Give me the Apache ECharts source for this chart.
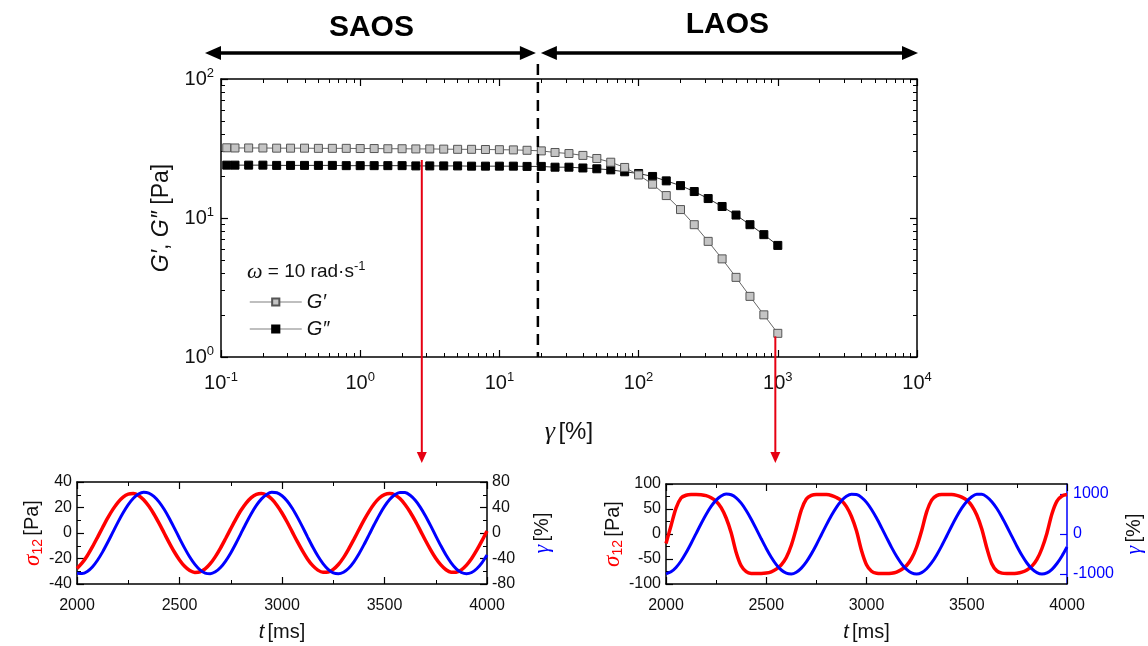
<!DOCTYPE html>
<html><head><meta charset="utf-8">
<script src="https://cdn.jsdelivr.net/npm/echarts@6/dist/echarts.min.js"></script>
<style>html,body{margin:0;padding:0;background:#fff}#c{width:1148px;height:646px}</style>
</head><body><div id="c"></div>
<script>
// ---------- data ----------
const strainPct = [0.11, 0.126, 0.158, 0.2, 0.251, 0.316, 0.398, 0.501, 0.631, 0.794, 1.0, 1.26, 1.58, 2.0, 2.51, 3.16, 3.98, 5.01, 6.31, 7.94, 10, 12.6, 15.8, 20.0, 25.1, 31.6, 39.8, 50.1, 63.1, 79.4, 100, 126, 158, 200, 251, 316, 398, 501, 631, 794, 1000];
const gPrime = [32.0, 31.9, 31.9, 31.9, 31.8, 31.8, 31.8, 31.7, 31.7, 31.7, 31.6, 31.6, 31.5, 31.5, 31.4, 31.4, 31.3, 31.2, 31.2, 31.1, 31.0, 30.9, 30.7, 30.4, 29.6, 29.1, 28.2, 26.8, 25.2, 23.1, 20.4, 17.5, 14.5, 11.5, 8.95, 6.79, 5.08, 3.74, 2.73, 2.01, 1.48];
const gDouble = [24.0, 24.0, 24.0, 24.0, 23.9, 23.9, 23.9, 23.9, 23.9, 23.8, 23.8, 23.8, 23.8, 23.8, 23.7, 23.7, 23.7, 23.7, 23.6, 23.6, 23.6, 23.6, 23.5, 23.5, 23.2, 23.2, 22.9, 22.6, 22.2, 21.5, 20.9, 19.9, 18.5, 17.1, 15.5, 13.8, 12.1, 10.5, 8.95, 7.59, 6.35];
const boundaryStrain = 18.9;
const arrowStrains = [2.77, 960];
const seriesNames = ['G\u2032', 'G\u2033'];
const regionLabels = ['SAOS', 'LAOS'];

const tMs = [2000,2025,2050,2075,2100,2125,2150,2175,2200,2225,2250,2275,2300,2325,2350,2375,2400,2425,2450,2475,2500,2525,2550,2575,2600,2625,2650,2675,2700,2725,2750,2775,2800,2825,2850,2875,2900,2925,2950,2975,3000,3025,3050,3075,3100,3125,3150,3175,3200,3225,3250,3275,3300,3325,3350,3375,3400,3425,3450,3475,3500,3525,3550,3575,3600,3625,3650,3675,3700,3725,3750,3775,3800,3825,3850,3875,3900,3925,3950,3975,4000];
const saosStress = [-27.8,-23.5,-17.8,-10.9,-3.4,4.3,11.8,18.5,24.1,28.2,30.5,30.9,29.4,26.1,21.1,14.9,7.7,0.0,-7.7,-14.9,-21.1,-26.1,-29.4,-30.9,-30.5,-28.2,-24.1,-18.5,-11.8,-4.3,3.4,10.9,17.8,23.5,27.8,30.3,31.0,29.7,26.6,21.8,15.7,8.6,0.9,-6.8,-14.0,-20.5,-25.6,-29.1,-30.8,-30.6,-28.5,-24.7,-19.3,-12.6,-5.2,2.5,10.1,17.0,22.9,27.4,30.1,31.0,30.0,27.0,22.4,16.5,9.5,1.9,-5.9,-13.2,-19.8,-25.0,-28.8,-30.7,-30.8,-28.9,-25.2,-20.0,-13.5,-6.2,1.6];
const saosStrain = [-63.2,-63.7,-60.3,-53.2,-42.7,-29.6,-14.6,1.3,17.1,31.8,44.6,54.6,61.1,63.9,62.7,57.6,48.9,37.2,23.2,7.7,-8.3,-23.7,-37.7,-49.3,-57.9,-62.8,-63.9,-60.9,-54.2,-44.1,-31.3,-16.5,-0.6,15.2,30.1,43.2,53.5,60.5,63.8,63.1,58.4,50.2,38.8,24.9,9.6,-6.4,-22.0,-36.2,-48.1,-57.1,-62.5,-64.0,-61.5,-55.2,-45.5,-32.9,-18.3,-2.6,13.3,28.4,41.7,52.4,59.9,63.6,63.4,59.2,51.3,40.3,26.7,11.5,-4.5,-20.1,-34.6,-46.8,-56.2,-62.0,-64.0,-62.0,-56.1,-46.8,-34.5];
const laosStress = [-18.8,16.5,51.8,72,77.5,79,79,78.6,76.7,72.4,65.7,52.8,32,2.5,-36.8,-63.6,-75.3,-78.8,-79,-79,-78.2,-75.6,-70.3,-61.6,-47,-22.5,11.6,48,69.9,77.2,79,79,78.8,77,73,67,54.8,35,6.3,-33,-61.5,-74.5,-78.5,-79,-79,-78.3,-76.1,-71,-63,-48.9,-26,6.6,44.3,67.8,76.8,79,79,78.9,77.3,73.6,67.8,56.7,38,10,-28,-59.4,-73.8,-78.2,-79,-79,-78.5,-76.4,-71.8,-64.3,-50.9,-29,1.7,40.5,65.7,76,79];
const laosStrain = [-997,-946,-836,-675,-471,-238,10,257,488,690,847,952,998,982,905,771,589,371,130,-120,-362,-581,-765,-900,-980,-999,-955,-852,-697,-497,-267,-20,228,462,667,831,943,996,987,917,790,613,399,159,-90,-334,-557,-745,-887,-974,-1000,-964,-868,-718,-523,-296,-50,199,435,645,814,932,993,992,929,808,637,426,189,-60,-305,-532,-725,-873,-966,-1000,-971,-882,-738,-548,-324];
const laosStrainLabels = [-1000, 0, 1000];

// ---------- styling helpers ----------
const FONT = '"Liberation Sans", Arial, sans-serif';
const SERIF = '"Liberation Serif", "Times New Roman", serif';
const INK = '#111';
const RED = '#ff0000';
const BLUE = '#0000ff';
const zip = (a, b) => a.map((v, i) => [v, b[i]]);
const plain = v => String(v);

const powRich = {
  b: {fontSize: 20, fontFamily: FONT, color: INK, lineHeight: 24},
  s: {fontSize: 13, fontFamily: FONT, color: INK, lineHeight: 14, verticalAlign: 'top'}
};
const powLabel = v => '{b|10}{s|' + Math.round(Math.log10(v)) + '}';

function boxAxis(o) {
  const color = o.color || '#000';
  const base = {
    axisLine: {show: true, onZero: false, lineStyle: {color: color, width: 1.5}},
    axisTick: {show: true, inside: true, length: 7, lineStyle: {color: color, width: 1.2}},
    minorTick: {show: true, splitNumber: o.minor || 2, length: 4, lineStyle: {color: color, width: 1}},
    splitLine: {show: false},
    minorSplitLine: {show: false},
    axisLabel: {show: false}
  };
  return Object.assign(base, o.extra);
}

const labelStyle = (size, color) => ({show: true, fontSize: size, fontFamily: FONT, color: color || INK, formatter: plain});
const tName = {rich: {t: {fontSize: 20, fontFamily: FONT, fontStyle: 'italic', color: INK}, n: {fontSize: 20, fontFamily: FONT, color: INK}}};
const sigmaName = {rich: {s: {fontSize: 23, fontFamily: SERIF, fontStyle: 'italic', color: RED, lineHeight: 24},
  sub: {fontSize: 14, fontFamily: FONT, color: RED, verticalAlign: 'bottom', lineHeight: 14},
  n: {fontSize: 20, fontFamily: FONT, color: INK}}};
const gammaName = {rich: {g: {fontSize: 22, fontFamily: SERIF, fontStyle: 'italic', color: BLUE}, n: {fontSize: 20, fontFamily: FONT, color: INK}}};

const chart = echarts.init(document.getElementById('c'));

const option = {
  animation: false,
  backgroundColor: '#fff',
  textStyle: {fontFamily: FONT},
  grid: [
    {left: 221, top: 79, width: 696, height: 278},
    {left: 77, top: 482, width: 410, height: 102},
    {left: 666, top: 484, width: 401, height: 100}
  ],
  xAxis: [
    boxAxis({minor: 9, extra: {type: 'log', logBase: 10, gridIndex: 0, min: 0.1, max: 10000, position: 'bottom',
      axisLabel: {show: true, formatter: powLabel, rich: powRich, margin: 14},
      name: '{g|\u03b3} {n|[%]}', nameLocation: 'middle', nameGap: 62,
      nameTextStyle: {rich: {g: {fontSize: 26, fontFamily: SERIF, fontStyle: 'italic', color: INK}, n: {fontSize: 24, fontFamily: FONT, color: INK}}}}}),
    boxAxis({minor: 9, extra: {type: 'log', logBase: 10, gridIndex: 0, min: 0.1, max: 10000, position: 'top'}}),
    boxAxis({extra: {type: 'value', gridIndex: 1, min: 2000, max: 4000, interval: 500, position: 'bottom',
      axisLabel: Object.assign(labelStyle(16), {margin: 14}),
      name: '{t|t} {n|[ms]}', nameLocation: 'middle', nameGap: 38, nameTextStyle: tName}}),
    boxAxis({extra: {type: 'value', gridIndex: 1, min: 2000, max: 4000, interval: 500, position: 'top'}}),
    boxAxis({extra: {type: 'value', gridIndex: 2, min: 2000, max: 4000, interval: 500, position: 'bottom',
      axisLabel: Object.assign(labelStyle(16), {margin: 14}),
      name: '{t|t} {n|[ms]}', nameLocation: 'middle', nameGap: 38, nameTextStyle: tName}}),
    boxAxis({extra: {type: 'value', gridIndex: 2, min: 2000, max: 4000, interval: 500, position: 'top'}})
  ],
  yAxis: [
    boxAxis({minor: 9, extra: {type: 'log', logBase: 10, gridIndex: 0, min: 1, max: 100, position: 'left',
      axisLabel: {show: true, formatter: powLabel, rich: powRich, margin: 7},
      name: '{i|G\u2032}{n|, }{i|G\u2033}{n| [Pa]}', nameLocation: 'middle', nameGap: 48, nameRotate: 90,
      nameTextStyle: {rich: {i: {fontSize: 23, fontFamily: FONT, fontStyle: 'italic', color: INK}, n: {fontSize: 23, fontFamily: FONT, color: INK}}}}}),
    boxAxis({minor: 9, extra: {type: 'log', logBase: 10, gridIndex: 0, min: 1, max: 100, position: 'right'}}),
    boxAxis({extra: {type: 'value', gridIndex: 1, min: -40, max: 40, interval: 20, position: 'left',
      axisLabel: Object.assign(labelStyle(16), {margin: 5}),
      name: '{s|\u03c3}{sub|12} {n|[Pa]}', nameLocation: 'middle', nameGap: 32, nameRotate: 90, nameTextStyle: sigmaName}}),
    boxAxis({extra: {type: 'value', gridIndex: 1, min: -80, max: 80, interval: 40, position: 'right',
      axisLabel: Object.assign(labelStyle(16), {margin: 5}),
      name: '{g|\u03b3} {n|[%]}', nameLocation: 'middle', nameGap: 44, nameRotate: 90, nameTextStyle: gammaName}}),
    boxAxis({extra: {type: 'value', gridIndex: 2, min: -100, max: 100, interval: 50, position: 'left',
      axisLabel: Object.assign(labelStyle(16), {margin: 5}),
      name: '{s|\u03c3}{sub|12} {n|[Pa]}', nameLocation: 'middle', nameGap: 34, nameRotate: 90, nameTextStyle: sigmaName}}),
    boxAxis({color: BLUE, extra: {type: 'value', gridIndex: 2, min: -1250, max: 1250, interval: 250, position: 'right',
      axisTick: {show: true, inside: true, length: 7, lineStyle: {color: BLUE, width: 1.2}, customValues: laosStrainLabels},
      minorTick: {show: false},
      axisLabel: Object.assign(labelStyle(16, BLUE), {margin: 6, customValues: laosStrainLabels,
        formatter: v => (v % 1000 === 0 ? String(v) : '')}),
      name: '{g|\u03b3} {n|[%]}', nameLocation: 'middle', nameGap: 56, nameRotate: 90, nameTextStyle: gammaName}})
  ],
  legend: {
    left: 244, top: 287, orient: 'vertical', itemWidth: 52, itemHeight: 9, itemGap: 7,
    data: seriesNames, selectedMode: false,
    textStyle: {fontSize: 20, fontStyle: 'italic', fontFamily: FONT, color: INK},
    lineStyle: {color: '#aaaaaa', width: 1.5}
  },
  series: [
    {type: 'line', name: seriesNames[1], xAxisIndex: 0, yAxisIndex: 0, data: zip(strainPct, gDouble),
      symbol: 'rect', symbolSize: 8, itemStyle: {color: '#000', borderColor: '#000', borderWidth: 1},
      lineStyle: {color: '#333', width: 1}, z: 3},
    {type: 'line', name: seriesNames[0], xAxisIndex: 0, yAxisIndex: 0, data: zip(strainPct, gPrime),
      symbol: 'rect', symbolSize: 8, itemStyle: {color: '#c4c4c4', borderColor: '#555', borderWidth: 1},
      lineStyle: {color: '#666', width: 1}, z: 4},
    {type: 'line', name: 'saosStress', xAxisIndex: 2, yAxisIndex: 2, data: zip(tMs, saosStress),
      showSymbol: false, smooth: 0.3, lineStyle: {color: RED, width: 3.5}, z: 3},
    {type: 'line', name: 'saosStrain', xAxisIndex: 2, yAxisIndex: 3, data: zip(tMs, saosStrain),
      showSymbol: false, smooth: 0.3, lineStyle: {color: BLUE, width: 3}, z: 4},
    {type: 'line', name: 'laosStress', xAxisIndex: 4, yAxisIndex: 4, data: zip(tMs, laosStress),
      showSymbol: false, smooth: 0.3, lineStyle: {color: RED, width: 3.5}, z: 3},
    {type: 'line', name: 'laosStrain', xAxisIndex: 4, yAxisIndex: 5, data: zip(tMs, laosStrain),
      showSymbol: false, smooth: 0.3, lineStyle: {color: BLUE, width: 3}, z: 4}
  ]
};
chart.setOption(option);

// ---------- annotations positioned through the main axes ----------
const px = v => chart.convertToPixel({xAxisIndex: 0}, v);
const py = v => chart.convertToPixel({yAxisIndex: 0}, v);
const xLeft = px(0.1), xRight = px(10000), xB = px(boundaryStrain);
const yTop = py(100), yBot = py(1);
const arrowY = yTop - 26;
const gfx = [];
function dblArrow(x1, x2, y) {
  const h = 16, w = 7;
  gfx.push({type: 'line', shape: {x1: x1 + h - 2, y1: y, x2: x2 - h + 2, y2: y}, style: {stroke: '#000', lineWidth: 3.5}, z: 100});
  gfx.push({type: 'polygon', shape: {points: [[x1, y], [x1 + h, y - w], [x1 + h, y + w]]}, style: {fill: '#000'}, z: 100});
  gfx.push({type: 'polygon', shape: {points: [[x2, y], [x2 - h, y - w], [x2 - h, y + w]]}, style: {fill: '#000'}, z: 100});
}
dblArrow(xLeft - 16, xB - 2, arrowY);
dblArrow(xB + 3, xRight + 1, arrowY);
gfx.push({type: 'text', x: (xLeft - 16 + xB) / 2, y: arrowY - 25, z: 100,
  style: {text: regionLabels[0], font: 'bold 30px ' + FONT, fill: '#000', align: 'center', verticalAlign: 'middle'}});
gfx.push({type: 'text', x: (xB + xRight) / 2, y: arrowY - 28, z: 100,
  style: {text: regionLabels[1], font: 'bold 30px ' + FONT, fill: '#000', align: 'center', verticalAlign: 'middle'}});
gfx.push({type: 'line', shape: {x1: xB, y1: yTop - 15, x2: xB, y2: yBot}, style: {stroke: '#000', lineWidth: 2.5, lineDash: [11, 7]}, z: 100});

const arrowEnd = chart.convertToPixel({gridIndex: 1}, [2000, 40])[1] - 19;
function redArrow(x, y1) {
  gfx.push({type: 'line', shape: {x1: x, y1: y1, x2: x, y2: arrowEnd - 8}, style: {stroke: '#e60012', lineWidth: 2}, z: 100});
  gfx.push({type: 'polygon', shape: {points: [[x - 5, arrowEnd - 11], [x + 5, arrowEnd - 11], [x, arrowEnd]]}, style: {fill: '#e60012'}, z: 100});
}
redArrow(px(arrowStrains[0]), py(gDouble[15]) - 6);
redArrow(px(arrowStrains[1]), py(gPrime[gPrime.length - 1]) + 3);

gfx.push({type: 'text', x: 247, y: py(4.1), z: 100,
  style: {text: '{w|\u03c9} = 10 rad\u00b7s{s|-1}', fill: INK, verticalAlign: 'middle',
    rich: {w: {fontSize: 22, fontFamily: SERIF, fontStyle: 'italic', fill: INK, lineHeight: 24},
      s: {fontSize: 13, fontFamily: FONT, fill: INK, verticalAlign: 'top', lineHeight: 14}},
    font: '19px ' + FONT}});
chart.setOption({graphic: gfx});
</script>
</body></html>
